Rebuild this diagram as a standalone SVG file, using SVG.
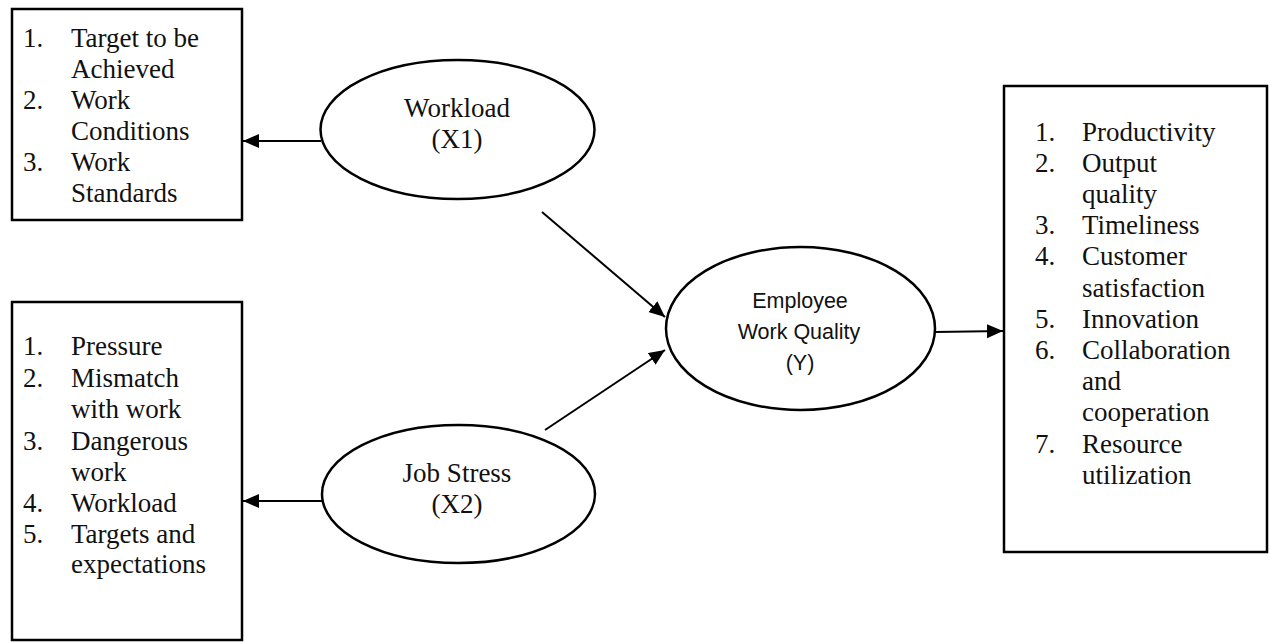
<svg xmlns="http://www.w3.org/2000/svg" width="1270" height="642" viewBox="0 0 1270 642">
<style>
.box{fill:#fff;stroke:#000;stroke-width:2.5}
.ell{fill:#fff;stroke:#000;stroke-width:2.5}
.t{font-family:"Liberation Serif","Times New Roman",serif;font-size:27px;fill:#111}
.c{text-anchor:middle}
.s{font-family:"Liberation Sans",Arial,sans-serif;font-size:21.5px;fill:#111;text-anchor:middle}
.ln{stroke:#000;stroke-width:2;fill:none;marker-end:url(#ah)}
</style>
<defs>
<marker id="ah" markerUnits="userSpaceOnUse" markerWidth="18" markerHeight="16" refX="16" refY="7" orient="auto">
<path d="M0,0 L16,7 L0,14 Z" fill="#000"/>
</marker>
</defs>
<rect width="1270" height="642" fill="#fff"/>
<g id="box-workload-indicators">
<rect class="box" x="12" y="9" width="230" height="211"/>
<text class="t" x="23" y="47">1.</text><text class="t" x="71" y="47">Target to be</text>
<text class="t" x="71" y="78">Achieved</text>
<text class="t" x="23" y="109">2.</text><text class="t" x="71" y="109">Work</text>
<text class="t" x="71" y="140">Conditions</text>
<text class="t" x="23" y="171">3.</text><text class="t" x="71" y="171">Work</text>
<text class="t" x="71" y="202">Standards</text>
</g>
<g id="box-stress-indicators">
<rect class="box" x="12" y="302" width="230" height="338"/>
<text class="t" x="23" y="355">1.</text><text class="t" x="71" y="355">Pressure</text>
<text class="t" x="23" y="387">2.</text><text class="t" x="71" y="387">Mismatch</text>
<text class="t" x="71" y="418">with work</text>
<text class="t" x="23" y="450">3.</text><text class="t" x="71" y="450">Dangerous</text>
<text class="t" x="71" y="481">work</text>
<text class="t" x="23" y="512">4.</text><text class="t" x="71" y="512">Workload</text>
<text class="t" x="23" y="543">5.</text><text class="t" x="71" y="543">Targets and</text>
<text class="t" x="71" y="573">expectations</text>
</g>
<g id="box-quality-indicators">
<rect class="box" x="1004" y="86" width="263" height="466"/>
<text class="t" x="1035" y="141">1.</text><text class="t" x="1082" y="141">Productivity</text>
<text class="t" x="1035" y="172">2.</text><text class="t" x="1082" y="172">Output</text>
<text class="t" x="1082" y="203">quality</text>
<text class="t" x="1035" y="234">3.</text><text class="t" x="1082" y="234">Timeliness</text>
<text class="t" x="1035" y="265">4.</text><text class="t" x="1082" y="265">Customer</text>
<text class="t" x="1082" y="297">satisfaction</text>
<text class="t" x="1035" y="328">5.</text><text class="t" x="1082" y="328">Innovation</text>
<text class="t" x="1035" y="359">6.</text><text class="t" x="1082" y="359">Collaboration</text>
<text class="t" x="1082" y="390">and</text>
<text class="t" x="1082" y="421">cooperation</text>
<text class="t" x="1035" y="453">7.</text><text class="t" x="1082" y="453">Resource</text>
<text class="t" x="1082" y="484">utilization</text>
</g>
<g id="node-workload">
<ellipse class="ell" cx="457.5" cy="129.5" rx="137" ry="69.5"/>
<text class="t c" x="457" y="117">Workload</text>
<text class="t c" x="457" y="148">(X1)</text>
</g>
<g id="node-jobstress">
<ellipse class="ell" cx="458.5" cy="494" rx="136.5" ry="69"/>
<text class="t c" x="457" y="482">Job Stress</text>
<text class="t c" x="457" y="513">(X2)</text>
</g>
<g id="node-quality">
<ellipse class="ell" cx="800.5" cy="328.5" rx="134.5" ry="81.5"/>
<text class="s" x="800" y="308">Employee</text>
<text class="s" x="799" y="339">Work Quality</text>
<text class="s" x="800" y="370">(Y)</text>
</g>
<g id="connectors">
<line class="ln" x1="321" y1="141" x2="243" y2="141"/>
<line class="ln" x1="322" y1="501" x2="243" y2="501"/>
<line class="ln" x1="542" y1="212" x2="665" y2="317"/>
<line class="ln" x1="545" y1="430" x2="665" y2="350"/>
<line class="ln" x1="935" y1="332" x2="1003" y2="331"/>
</g>
</svg>
